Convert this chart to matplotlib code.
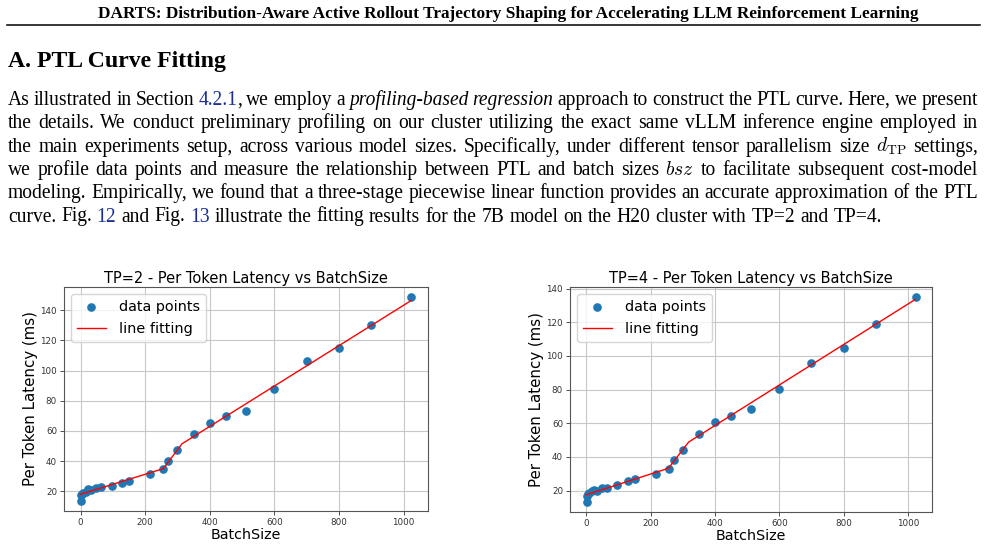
import re
import matplotlib
matplotlib.use("Agg")
import matplotlib.pyplot as plt
from matplotlib.lines import Line2D

plt.rcParams['mathtext.fontset'] = 'cm'

W, H = 987, 546

# ---- data ----
batch = [1, 2, 4, 8, 16, 24, 32, 48, 64, 96, 128, 150, 216, 256, 272, 300,
         350, 400, 450, 512, 600, 700, 800, 900, 1024]
ptl_tp2 = [13.7, 17.3, 18.2, 18.9, 19.8, 21.3, 20.9, 22.0, 22.6, 23.7, 25.6, 26.8,
           31.5, 34.8, 40.3, 47.2, 58.2, 65.3, 70.0, 73.0, 88.1, 106.6, 114.7, 130.0, 148.6]
ptl_tp4 = [13.3, 16.8, 18.0, 18.8, 19.5, 20.5, 20.0, 21.3, 21.3, 23.4, 25.5, 26.9,
           30.0, 32.6, 38.0, 43.9, 53.7, 60.9, 64.0, 68.2, 80.4, 96.0, 104.6, 119.1, 134.9]

# three-stage piecewise fit, breakpoints
fit_x_tp2 = [0, 256, 314, 1024]
fit_y_tp2 = [18.0, 35.0, 51.5, 146.5]
fit_x_tp4 = [0, 255, 318, 1024]
fit_y_tp4 = [17.5, 33.2, 48.8, 133.7]

header = ("DARTS: Distribution-Aware Active Rollout Trajectory Shaping "
          "for Accelerating LLM Reinforcement Learning")
heading = "A. PTL Curve Fitting"
body = [
    "As illustrated in Section [4.2.1], we employ a *profiling-based regression* approach to construct the PTL curve. Here, we present",
    "the details. We conduct preliminary profiling on our cluster utilizing the exact same vLLM inference engine employed in",
    "the main experiments setup, across various model sizes. Specifically, under different tensor parallelism size $d_{\\mathrm{TP}}$ settings,",
    "we profile data points and measure the relationship between PTL and batch sizes $bsz$ to facilitate subsequent cost-model",
    "modeling. Empirically, we found that a three-stage piecewise linear function provides an accurate approximation of the PTL",
    "curve. Fig. [12] and Fig. [13] illustrate the fitting results for the 7B model on the H20 cluster with TP=2 and TP=4.",
]
LINK = '#1c2f96'
SERIF = 'Liberation Serif'

fig = plt.figure(figsize=(W / 100, H / 100), dpi=100)
fig.patch.set_facecolor('white')
renderer = fig.canvas.get_renderer()


def put(x, y, s, **kw):
    # x, y in pixels from top-left, y is the baseline
    return fig.text(x / W, 1 - y / H, s, va='baseline', ha='left', **kw)


def width(t):
    return t.get_window_extent(renderer).width


def fit_size(s, target, **kw):
    t = put(0, 0, s, fontsize=10, **kw)
    w = width(t)
    t.remove()
    return 10 * target / w


# running header + rule
fs = fit_size(header, 820, family=SERIF, weight='bold')
put(98, 18, header, family=SERIF, weight='bold', fontsize=fs)
fig.add_artist(Line2D([7 / W, 980 / W], [1 - 25 / H, 1 - 25 / H],
                      color='black', lw=1.1, transform=fig.transFigure))

fs = fit_size(heading, 218, family=SERIF, weight='bold')
put(8, 67, heading, family=SERIF, weight='bold', fontsize=fs)


def parse(line, state):
    words = []
    for w in line.split(' '):
        pieces = []
        for tok in re.findall(r'\$[^$]*\$|\*|\[|\]|[^$*\[\]]+', w):
            if tok == '*':
                state['it'] = not state['it']
            elif tok == '[':
                state['link'] = True
            elif tok == ']':
                state['link'] = False
            else:
                pieces.append((tok, state['it'], state['link']))
        words.append(pieces)
    return words


def piece_kw(it, link, fsize):
    return dict(family=SERIF, fontsize=fsize, style='italic' if it else 'normal',
                color=LINK if link else 'black')


body_fs = 0.985 * fit_size("curve. Fig. 12 and Fig. 13 illustrate the fitting results for the "
                           "7B model on the H20 cluster with TP=2 and TP=4.", 887, family=SERIF)
t = put(0, 0, "a b", family=SERIF, fontsize=body_fs)
t2 = put(0, 0, "ab", family=SERIF, fontsize=body_fs)
space = width(t) - width(t2)
t.remove()
t2.remove()

state = {'it': False, 'link': False}
x0, x1 = 8, 978
for i, line in enumerate(body):
    y = 105 + i * 23.3
    words = parse(line, state)
    placed = []
    total = 0
    for pieces in words:
        arts = []
        for s, it, link in pieces:
            a = put(0, y, s, **piece_kw(it, link, body_fs))
            arts.append((a, width(a)))
            total += arts[-1][1]
        placed.append(arts)
    last = i == len(body) - 1
    gap = space if last else (x1 - x0 - total) / (len(words) - 1)
    x = x0
    for arts in placed:
        for a, w in arts:
            a.set_x(x / W)
            x += w
        x += gap


def panel(rect, tp, ys, fx, fy):
    ax = fig.add_axes(rect)
    ax.scatter(batch, ys, s=27, color='tab:blue', label='data points', zorder=3)
    ax.plot(fx, fy, color='red', lw=1.0, label='line fitting', zorder=4)
    ax.set_title(f'TP={tp} - Per Token Latency vs BatchSize', fontsize=10.5, pad=3)
    ax.set_xlabel('BatchSize', fontsize=10.3, labelpad=1)
    ax.set_ylabel('Per Token Latency (ms)', fontsize=10.8, labelpad=2)
    ax.tick_params(labelsize=6.3, length=3, width=0.6, pad=2, colors='#333333')
    ax.grid(True, color='#c8c8c8', lw=0.8)
    ax.set_axisbelow(True)
    for sp in ax.spines.values():
        sp.set_color('#555555')
        sp.set_linewidth(0.8)
    ax.legend(loc='upper left', fontsize=10.4, borderpad=0.4,
              handletextpad=0.9, labelspacing=0.55, borderaxespad=0.5)
    return ax


panel([64 / W, 1 - 511 / H, 364 / W, 224 / H], 2, ptl_tp2, fit_x_tp2, fit_y_tp2)
panel([570 / W, 1 - 512 / H, 362 / W, 225 / H], 4, ptl_tp4, fit_x_tp4, fit_y_tp4)

fig.savefig('out.png', dpi=100)
